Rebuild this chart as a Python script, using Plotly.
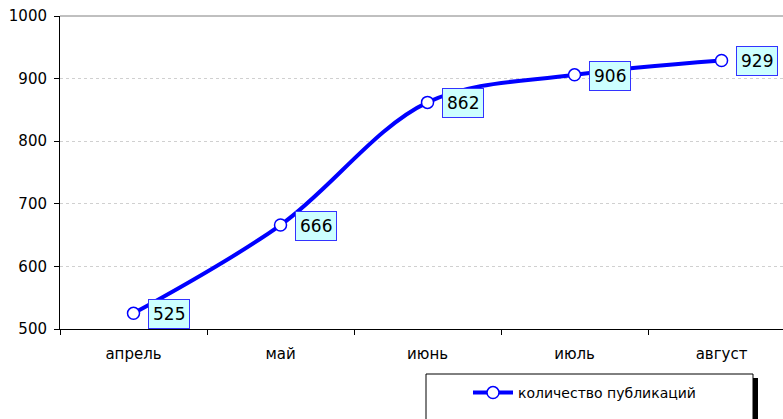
import plotly.graph_objects as go

months = ["апрель", "май", "июнь", "июль", "август"]
counts = [525, 666, 862, 906, 929]
series_name = "количество публикаций"
y_ticks = [500, 600, 700, 800, 900, 1000]

FONT = "DejaVu Sans"
BLUE = "#0000FF"

fig = go.Figure()
fig.add_trace(go.Scatter(
    x=months, y=counts, mode="lines+markers", name=series_name,
    line=dict(color=BLUE, width=4, shape="spline", smoothing=1.0),
    marker=dict(size=12, color="white", line=dict(color=BLUE, width=1.5)),
))

for m, v in zip(months, counts):
    fig.add_annotation(
        x=m, y=v, xref="x", yref="y", text=str(v), showarrow=False,
        xshift=35, yshift=-1,
        font=dict(family=FONT, size=17, color="black"),
        bgcolor="#CCFFFF", bordercolor="#3333FF", borderwidth=1, borderpad=4,
    )

# plot-area top border
fig.add_shape(type="line", xref="paper", yref="paper", x0=0, x1=1, y0=1, y1=1,
              line=dict(color="#808080", width=1))

# legend box with shadow
px = lambda p: (p - 60) / 723.0
py = lambda p: (329 - p) / 313.0
fig.add_shape(type="rect", xref="paper", yref="paper",
              x0=px(753), x1=px(758), y0=py(378), y1=py(430),
              fillcolor="black", line=dict(width=0), layer="above")
fig.add_shape(type="rect", xref="paper", yref="paper",
              x0=px(426), x1=px(753), y0=py(374), y1=py(430),
              fillcolor="white", line=dict(color="black", width=1), layer="below")

fig.update_layout(
    width=783, height=419,
    margin=dict(l=60, r=0, t=16, b=90, autoexpand=False),
    paper_bgcolor="white", plot_bgcolor="white",
    font=dict(family=FONT, size=15, color="black"),
    showlegend=True,
    legend=dict(x=px(468), y=py(377), xanchor="left", yanchor="top",
                bgcolor="rgba(0,0,0,0)", borderwidth=0,
                font=dict(family=FONT, size=14, color="black"),
                itemwidth=40),
    xaxis=dict(type="category", range=[-0.5, 4.418], tickson="boundaries",
               ticks="outside", ticklen=5, tickcolor="black",
               showline=True, linecolor="black", linewidth=1,
               showgrid=False, zeroline=False, automargin=False,
               ticklabelstandoff=11,
               tickfont=dict(family=FONT, size=15)),
    yaxis=dict(range=[500, 1000], tickvals=y_ticks,
               ticks="outside", ticklen=5, tickcolor="black",
               showline=True, linecolor="black", linewidth=1,
               showgrid=True, gridcolor="#D0D0D0", griddash="dot", gridwidth=1,
               zeroline=False, automargin=False, ticklabelstandoff=4,
               tickfont=dict(family=FONT, size=15)),
)

fig.write_html("out.html",
               config={"displayModeBar": False},
               post_script="document.body.style.margin='0px';document.body.style.overflow='hidden';")
